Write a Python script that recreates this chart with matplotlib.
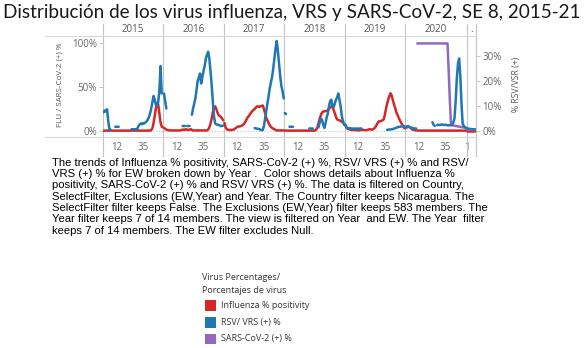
import numpy as np
import matplotlib
matplotlib.use("Agg")
import matplotlib.pyplot as plt
import matplotlib.transforms as mtransforms
from matplotlib.lines import Line2D
from matplotlib.patches import Rectangle

# ---------------------------------------------------------------- data
years = [2015, 2016, 2017, 2018, 2019, 2020, 2021]
pane_labels = ["2015", "2016", "2017", "2018", "2019", "2020", "."]
weeks_per_year = [52, 52, 52, 52, 52, 53, 8]
week_ticks = [12, 35]
week_ticks_last = [1]
nan = np.nan

# Influenza % positivity (left axis)
flu_2015 = [0.3, 0.3, 0.3, 0.3, 0.3, 0.3, 0.3, 0.3, 0.3, 0.3,
            0.3, 0.3, 0.3, 0.3, 0.3, 0.3, 0.3, 0.3, 0.3, 0.3,
            0.3, 0.3, 0.3, 0.3, 0.3, 0.3, 0.3, 0.3, 0.3, 0.3,
            0.3, 0.3, 0.3, 0.3, 0.3, 0.3, 0.3, 0.3, 0.3, 0.3,
            0.3, 0.8, 3, 9, 17, 26, 32, 30, 20, 10, 5, 4]
flu_2016 = [3.5, 2.5, 1.5, 1, 0.7, 0.5, 0.5, 0.5, 0.5, 0.5,
            0.5, 0.5, 0.5, 0.5, 0.5, 1, 1.5, 1, 1.5, 2,
            1.2, 1, 1.5, 2, 1, 0.5, 0.5, 0.5, 0.5, 0.5,
            0.5, 0.5, 0.5, 0.5, 0.5, 0.5, 0.5, 0.5, 1.5, 4,
            8, 14, 21, 27, 28, 25, 21, 18, 17, 16, 14, 12]
flu_2017 = [9, 4, 2, 1.2, 1, 1, 1, 1.2, 1.5, 2.5,
            3.5, 4.5, 5, 5, 5.5, 6, 7, 8, 10.5, 13,
            15.5, 17, 19, 21, 22.5, 24, 25, 26.5, 28, 28,
            27.5, 28, 28.5, 29, 25, 20, 15, 12, 9, 6.5,
            4.5, 3.5, 2.5, 2, 1, 0.5, 0.5, 0.5, 0.5, 0.5, 0.5, 0.5]
flu_2018 = [0.3, 0.3, 0.3, 0.3, 0.3, 0.3, 0.3, 0.3, 0.3, 0.3,
            0.3, 0.3, 0.3, 0.3, 0.3, 0.3, 0.3, 0.3, 0.3, 0.3,
            0.3, 0.3, 0.3, 0.3, 0.3, 0.3, 0.3, 1.5, 4, 9,
            14, 18, 21, 22, 22.5, 22.5, 23, 23.5, 25, 27,
            28, 27, 24, 20, 16, 13, 12.5, 12, 11.5, 10.5, 9.5, 8]
flu_2019 = [7, 4, 2.5, 2, 1.5, 1.2, 1, 1, 1, 0.8,
            0.8, 0.7, 0.7, 0.8, 1, 1.2, 1, 0.8, 0.8, 1,
            1.5, 2, 1.5, 1.5, 2, 3, 4.5, 7, 9.5, 11,
            11, 11.5, 12, 13, 18, 25, 31, 36, 40, 43,
            40, 35, 30, 26, 21, 18, 15, 12, 9.5, 7, 5, 3]
flu_2020 = [3, 4, 5, 4.5, 3.5, 2.5, 1.5, 1, 0.8, 0.6,
            0.4, 0.4, 0.3, 0.3, 0.3, 0.4, 0.3, 0.3, 0.3, 0.3,
            0.3, 0.3, 0.4, 0.3, 0.3, 0.3, 0.3, 0.3, 0.3, 0.3,
            0.3, 0.3, 0.3, 0.4, 0.3, 0.3, 0.3, 0.3, 0.3, 0.3,
            0.3, 0.3, 0.3, 0.3, 0.3, 0.3, 0.3, 0.4, 0.3, 0.3,
            0.3, 0.3, 0.3]
flu_2021 = [0.3, 0.3, 0.3, 0.3, 0.3, 0.3, 0.3, 0.3]

# RSV / VRS (+) % (right axis)
rsv_2015 = [7.5, 8.2, 7.8, 8.7, 4, 0.6, 0.5, nan, nan, nan,
            1.7, 1.7, 1.7, 1.7, nan, nan, nan, nan, nan, nan,
            nan, nan, nan, nan, 0.7, 0.7, 0.7, 0.7, 0.7, 0.8,
            2, 2.6, 3, 2.7, 3.2, 3, 3.4, 3.8, 4.5, 5.5,
            7, 9, 11.5, 14, 12.5, 10.5, 10, 11.5, 16, 26, 15, nan]
rsv_2016 = [15, 12, 9, nan, nan, nan, nan, nan, nan, nan,
            nan, nan, nan, nan, nan, nan, 2, 2, 2, nan,
            2, 2, 2, nan, 6.5, 9, 11, 13, 16.5, 20,
            21.5, 23, 19, 21.5, 24, 26, 29, 30.5, 31.7, 29,
            24, 18.5, 12, 6, 3, 2.7, 2.5, 2.4, 2.2, 2, 2, 2.2]
rsv_2017 = [nan, nan, nan, nan, nan, nan, nan, nan, nan, nan,
            nan, nan, nan, nan, nan, nan, nan, nan, nan, nan,
            nan, nan, nan, nan, nan, nan, 1.2, 1, 1, 0.8,
            0.8, 0.5, 0.3, 0.4, 2, 5, 8, 11, 14, 17,
            19.5, 21.5, 25, 29, 33, 36, 32, 27, 22, 18, 16, 13]
rsv_2018 = [7.2, 6.8, nan, nan, 1.7, 1.7, 1.7, 1.7, nan, nan,
            nan, nan, nan, nan, nan, nan, nan, nan, nan, nan,
            nan, 1, 1, 1, 1, nan, nan, nan, nan, 1.5,
            3.5, 5, 4.5, 2.5, 1.2, 3, 5.5, 7, 10, 12,
            12.5, 10, 9.5, 11, 12.5, 13.5, 15, 12.5, 10, 6, 4, 2.5]
rsv_2019 = [2.5, 1.5, 1, 1, 1.2, 1, 0.9, 1, 1, 0.8,
            1, 1, 0.9, 1, 1, nan, nan, nan, nan, nan,
            nan, nan, nan, nan, nan, nan, nan, nan, nan, nan,
            nan, nan, nan, nan, nan, nan, 0.5, 0.5, 0.6, 0.6,
            0.7, 0.8, 1, 1.1, 1.3, 1.5, 1.7, 1.6, 1.8, 2, 1.8, 2]
rsv_2020 = [1.3, 1.8, 2, 1.6, 1.4, 1.3, 1.2, 1, 1, 1,
            nan, nan, nan, nan, nan, nan, nan, nan, nan, nan,
            nan, nan, nan, 3.5, 2.5, 2, nan, 2.3, 2.5, 2.4,
            2.5, 2.6, 2.5, 2.4, 2.5, 2.4, 2.3, 2.3, 2.3, 2.3,
            2.5, 3.5, 5, 12, 21, 27, 29, 22, 11, 3,
            2, 1.5, 1.3]
rsv_2021 = [1, 0.9, 0.8, 0.8, 0.7, 0.7, 0.6, 0.6]

# SARS-CoV-2 (+) % (left axis)
sars_2020 = [nan, nan, nan, nan, nan, nan, nan, nan, nan, nan,
             100, 100, 100, 100, 100, 100, 100, 100, 100, 100,
             100, 100, 100, 100, 100, 100, 100, 100, 100, 100,
             100, 100, 100, 100, 100, 100, 100, 68, 35, 7,
             6.5, 6, 6, 5.5, 5.5, 5, 5, 4.5, 4.5, 4,
             4, 3.5, 3]
sars_2021 = [2.5, 2.2, 2, 2, 1.8, 1.7, 1.6, 1.5]

flu = {2015: flu_2015, 2016: flu_2016, 2017: flu_2017, 2018: flu_2018,
       2019: flu_2019, 2020: flu_2020, 2021: flu_2021}
rsv = {2015: rsv_2015, 2016: rsv_2016, 2017: rsv_2017, 2018: rsv_2018,
       2019: rsv_2019, 2020: rsv_2020, 2021: rsv_2021}
sars = {2020: sars_2020, 2021: sars_2021}

left_ticks = [0, 50, 100]
right_ticks = [0, 10, 20, 30]

legend_title = "Virus Percentages/\nPorcentajes de virus"
legend_labels = ["Influenza % positivity", "RSV/ VRS (+) %", "SARS-CoV-2 (+) %"]

caption = [
    "The trends of Influenza % positivity, SARS-CoV-2 (+) %, RSV/ VRS (+) % and RSV/",
    "VRS (+) % for EW broken down by Year .  Color shows details about Influenza %",
    "positivity, SARS-CoV-2 (+) % and RSV/ VRS (+) %. The data is filtered on Country,",
    "SelectFilter, Exclusions (EW,Year) and Year. The Country filter keeps Nicaragua. The",
    "SelectFilter filter keeps False. The Exclusions (EW,Year) filter keeps 583 members. The",
    "Year filter keeps 7 of 14 members. The view is filtered on Year  and EW. The Year  filter",
    "keeps 7 of 14 members. The EW filter excludes Null.",
]

title = "Distribución de los virus influenza, VRS y SARS-CoV-2, SE 8, 2015-21"

# ---------------------------------------------------------------- style
RED = "#d62728"
BLUE = "#1f77b4"
PURPLE = "#9467bd"
AXIS_TXT = "#666666"
RULE = "#d9d9d9"
DIVIDER = "#c4c4c4"
UI_FONT = ["Open Sans", "DejaVu Sans"]

W, H = 585, 348
fig = plt.figure(figsize=(W / 100, H / 100), dpi=100)


def fx(px):
    return px / W


def fy(py):
    return 1 - py / H


def fit_width(txt, width_px):
    r = fig.canvas.get_renderer()
    bb = txt.get_window_extent(renderer=r)
    txt.set_fontsize(txt.get_fontsize() * width_px / bb.width)
    return txt.get_fontsize()


# ---------------------------------------------------------------- axes
PL, PR, PT, PB = 103, 476, 36, 137
ax = fig.add_axes([fx(PL), fy(PB), fx(PR) - fx(PL), fy(PT) - fy(PB)])
ax2 = ax.twinx()
for a in (ax, ax2):
    for s in a.spines.values():
        s.set_visible(False)
    a.patch.set_visible(False)

starts = np.concatenate([[0], np.cumsum(weeks_per_year)[:-1]])
total = int(np.sum(weeks_per_year))
ax.set_xlim(0, total)
ax2.set_xlim(0, total)
ax.set_ylim(-7, 108.5)
ax2.set_ylim(-2.4, 38)

ax.axhline(0, color="#c8c8c8", lw=0.8, ls=(0, (1, 1.5)), zorder=1)

line_kw = dict(lw=1.8, solid_capstyle="round", solid_joinstyle="round")
for i, yr in enumerate(years):
    n = weeks_per_year[i]
    xs = starts[i] + np.arange(1, n + 1) - 0.5
    ax.plot(xs, flu[yr], color=RED, zorder=3, **line_kw)
    if yr in sars:
        ax.plot(xs, sars[yr], color=PURPLE, zorder=4, **line_kw)
    ax2.plot(xs, rsv[yr], color=BLUE, zorder=3, **line_kw)

# x ticks: epidemiological weeks inside each year pane
xt, xl = [], []
for i, yr in enumerate(years):
    marks = week_ticks if weeks_per_year[i] > 20 else week_ticks_last
    for w in marks:
        xt.append(starts[i] + w - 0.5)
        xl.append(str(w))
ax.set_xticks(xt)
ax.set_xticklabels(xl, fontsize=7, color=AXIS_TXT, family=UI_FONT)
ax.tick_params(axis="x", length=0, pad=3.5)

ax.set_yticks(left_ticks)
ax.set_yticklabels([f"{v}%" for v in left_ticks], fontsize=7,
                   color=AXIS_TXT, family=UI_FONT)
ax.tick_params(axis="y", length=3, width=0.6, color="#bdbdbd", pad=1.5)
ax2.set_yticks(right_ticks)
ax2.set_yticklabels([f"{v}%" for v in right_ticks], fontsize=7,
                    color=AXIS_TXT, family=UI_FONT)
ax2.tick_params(axis="y", length=3, width=0.6, color="#bdbdbd", pad=1.5)

fig.text(fx(60), fy(85), "FLU / SARS-CoV-2 (+) %", rotation=90, ha="center",
         va="center", fontsize=5.8, color="#555555", family=UI_FONT)
fig.text(fx(516), fy(84), "% RSV/VSR (+)", rotation=90, ha="center",
         va="center", fontsize=6.2, color="#555555", family=UI_FONT)

# pane frame: header rule, bottom rule, year dividers
fig.add_artist(Line2D([fx(45), fx(PR)], [fy(PT), fy(PT)], color=RULE, lw=0.8))
fig.add_artist(Line2D([fx(45), fx(PR)], [fy(PB), fy(PB)], color=RULE, lw=0.8))
bt = mtransforms.blended_transform_factory(ax.transData, fig.transFigure)
edges = list(starts) + [total]
for e in edges:
    ax.add_artist(Line2D([e, e], [fy(24), fy(156)], color=DIVIDER, lw=0.8,
                         transform=bt, clip_on=False))
for i, lab in enumerate(pane_labels):
    cx = starts[i] + weeks_per_year[i] / 2
    ax.text(cx, fy(30), lab, transform=bt, ha="center", va="center",
            fontsize=7, color="#555555", family=UI_FONT, clip_on=False)

# ---------------------------------------------------------------- title
t = fig.text(fx(3), fy(18), title, ha="left", va="baseline", fontsize=13,
             family=["Lato", "DejaVu Sans"], fontweight="normal", color="#1a1a1a")
fit_width(t, 574)

# ---------------------------------------------------------------- caption
c0 = fig.text(fx(52), fy(162.7), caption[0], ha="left", va="center",
              fontsize=7, family=["Liberation Sans", "DejaVu Sans"], color="black")
fs = fit_width(c0, 418)
for k, line in enumerate(caption[1:], start=1):
    fig.text(fx(52), fy(162.7 + 11.3 * k), line, ha="left", va="center",
             fontsize=fs, family=["Liberation Sans", "DejaVu Sans"], color="black")

# ---------------------------------------------------------------- legend
for k, line in enumerate(legend_title.split("\n")):
    fig.text(fx(202), fy(277 + 13.5 * k), line, ha="left", va="center",
             fontsize=6.5, family=UI_FONT, color="#333333")
for k, (lab, col) in enumerate(zip(legend_labels, [RED, BLUE, PURPLE])):
    yc = 305.5 + 16.7 * k
    fig.add_artist(Rectangle((fx(205), fy(yc + 5.3)), fx(11), 10.6 / H,
                             facecolor=col, edgecolor="none"))
    fig.text(fx(221), fy(yc), lab, ha="left", va="center", fontsize=6.5,
             family=UI_FONT, color="#333333")

fig.savefig("out.png", dpi=100)
